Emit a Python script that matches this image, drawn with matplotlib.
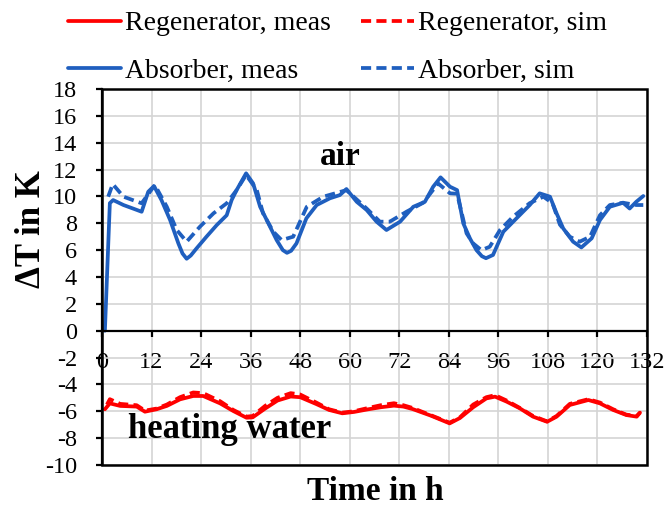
import matplotlib
matplotlib.use("Agg")
import matplotlib.pyplot as plt
from matplotlib.patches import Rectangle

plt.rcParams["font.family"] = ["Liberation Serif", "DejaVu Serif"]
plt.rcParams["axes.unicode_minus"] = False

# Absorber (air side), measured
abs_meas_t = [0.7, 1.9, 2.7, 5.2, 7.5, 9.6, 11.2, 12.6, 14.4, 16.5, 18.5, 19.5, 20.5, 21.5, 22.9,
              25.3, 27.8, 30.2, 31.4, 32.6, 34.9, 36.6, 38.3, 39.9, 42.3, 43.8, 44.8, 45.8, 47.1,
              49.5, 52.0, 55.2, 57.6, 59.2, 61.7, 64.1, 66.5, 68.9, 72.2, 75.4, 78.2,
              80.2, 82.0, 84.3, 86.0, 87.5, 89.1, 90.7, 92.0, 93.0, 94.7, 97.2, 100.4, 103.6,
              106.0, 108.5, 110.1, 111.7, 114.1, 116.1, 118.6, 120.6, 123.0, 126.2,
              127.8, 129.4, 131.1]
abs_meas_v = [0.0, 9.5, 9.73, 9.36, 9.1, 8.86, 10.35, 10.77, 9.73, 8.24, 6.5, 5.75, 5.36, 5.6, 6.13,
              7.0, 7.87, 8.6, 9.73, 10.47, 11.72, 10.97, 9.23, 8.24, 6.75, 6.0, 5.8, 5.95, 6.5,
              8.37, 9.36, 9.86, 10.1, 10.55, 9.6, 8.99, 8.12, 7.5, 8.12, 9.23, 9.6,
              10.72, 11.42, 10.72, 10.47, 8.0, 6.88, 6.0, 5.55, 5.4, 5.64, 7.37, 8.37, 9.36,
              10.23, 9.98, 8.74, 7.62, 6.63, 6.2, 6.88, 8.24, 9.23, 9.53,
              9.1, 9.6, 10.03]

# Absorber (air side), simulated
abs_sim_t = [1.5, 2.6, 5.2, 9.6, 12.8, 15.7, 18.1, 20.5, 23.7, 27.0, 30.2, 32.6, 34.9,
             37.5, 39.0, 41.5, 43.5, 46.3, 49.6, 53.6, 59.2, 64.1, 67.3, 69.7, 73.8,
             77.8, 81.4, 84.3, 86.0, 88.3, 89.9, 91.9, 93.9, 96.4, 99.6, 103.6, 106.9,
             109.1, 110.9, 113.3, 115.7, 118.2, 120.6, 123.0, 126.2, 129.4, 131.1]
abs_sim_v = [9.98, 10.92, 9.98, 9.49, 10.85, 9.23, 7.5, 6.63, 7.74, 8.74, 9.49, 10.47, 11.6,
             10.47, 8.74, 7.37, 6.75, 7.0, 9.23, 9.98, 10.47, 9.1, 8.12, 8.12, 8.87,
             9.53, 10.97, 10.23, 10.2, 7.25, 6.5, 6.0, 6.25, 7.5, 8.5, 9.5, 9.98,
             9.5, 7.9, 7.0, 6.63, 7.0, 8.6, 9.36, 9.53, 9.36, 9.36]

# Regenerator (heating water side), measured
reg_meas_t = [0.7, 1.9, 4.4, 8.4, 10.4, 13.2, 15.7, 18.9, 22.1, 24.5, 28.6, 31.8, 35.0,
              36.5, 39.5, 42.5, 45.7, 48.0, 51.9, 55.0, 58.2, 61.0, 64.5, 67.5, 70.7,
              73.0, 75.2, 79.7, 84.2, 86.7, 89.9, 93.1, 95.2, 98.0, 101.2, 104.4, 107.8,
              110.1, 113.3, 117.8, 120.6, 123.8, 127.0, 129.5, 130.3]
reg_meas_v = [-5.85, -5.41, -5.6, -5.65, -6.03, -5.85, -5.6, -5.11, -4.86, -4.86, -5.41, -5.98, -6.48,
              -6.45, -5.8, -5.2, -4.9, -4.95, -5.46, -5.9, -6.15, -6.05, -5.85, -5.7, -5.58,
              -5.65, -5.83, -6.33, -6.9, -6.5, -5.7, -5.04, -4.91, -5.28, -5.78, -6.4, -6.78,
              -6.4, -5.53, -5.16, -5.41, -5.9, -6.28, -6.4, -6.1]

# Regenerator (heating water side), simulated
reg_sim_t = [1.2, 1.9, 4.4, 8.4, 10.4, 13.2, 15.7, 18.9, 22.1, 24.5, 28.6, 31.8, 35.0,
             36.5, 39.5, 42.5, 45.7, 48.0, 51.9, 55.0, 58.2, 61.0, 64.5, 67.5, 70.7,
             73.0, 75.2, 79.7, 84.2, 86.7, 89.9, 93.1, 95.2, 98.0, 101.2, 104.4, 107.8,
             110.1, 113.3, 117.8, 120.6, 123.8, 127.0, 129.5, 130.3]
reg_sim_v = [-5.5, -5.1, -5.45, -5.55, -5.95, -5.8, -5.5, -4.95, -4.6, -4.65, -5.25, -5.9, -6.4,
             -6.35, -5.6, -5.0, -4.65, -4.75, -5.35, -5.85, -6.1, -6.0, -5.75, -5.55, -5.4,
             -5.55, -5.75, -6.3, -6.85, -6.45, -5.5, -4.95, -4.8, -5.2, -5.75, -6.35, -6.75,
             -6.35, -5.45, -5.1, -5.35, -5.85, -6.25, -6.35, -6.1]

x_ticks = list(range(0, 133, 12))
y_ticks = list(range(-10, 19, 2))

RED = "#FF0000"
BLUE = "#1F5FBF"
LW = 2.7
DASH = (0, (2.7, 1.4))

W, H = 669, 516
fig = plt.figure(figsize=(W / 100, H / 100), dpi=100)
ax = fig.add_axes([102 / W, 1 - 465 / H, (647 - 102) / W, (465 - 89) / H])

ax.set_xlim(0, 132)
ax.set_ylim(-10, 18)
ax.set_xticks(x_ticks)
ax.set_yticks(y_ticks)
ax.grid(True, color="#D4D4D4", linewidth=1.2)
ax.set_axisbelow(True)

l_rm, = ax.plot(reg_meas_t, reg_meas_v, color=RED, lw=LW, solid_capstyle="round",
                solid_joinstyle="round")
l_am, = ax.plot(abs_meas_t, abs_meas_v, color=BLUE, lw=LW, solid_capstyle="round",
                solid_joinstyle="round")
l_rs, = ax.plot(reg_sim_t, reg_sim_v, color=RED, lw=LW, ls=DASH)
l_as, = ax.plot(abs_sim_t, abs_sim_v, color=BLUE, lw=LW, ls=DASH)

# x axis crosses at zero, outer frame drawn separately
ax.spines["bottom"].set_position(("data", 0))
ax.spines["top"].set_visible(False)
ax.spines["right"].set_visible(False)
for s in ("left", "bottom"):
    ax.spines[s].set_linewidth(1.6)
    ax.spines[s].set_color("black")
ax.add_patch(Rectangle((0, 0), 1, 1, transform=ax.transAxes, fill=False,
                       edgecolor="black", linewidth=1.8, clip_on=False, zorder=5))

ax.tick_params(axis="y", direction="out", length=4, width=1.6, labelsize=17.5, pad=14)
ax.tick_params(axis="x", direction="out", length=4, width=1.6, labelsize=17.5, pad=11)

ax.text(57.6, 12.35, "air", fontsize=24, fontweight="bold", ha="center", va="baseline")
ax.text(6.3, -8.0, "heating water", fontsize=25, fontweight="bold", ha="left", va="baseline")

fig.text(375 / W, 1 - 492 / H, "Time in h", fontsize=24, fontweight="bold",
         ha="center", va="center")
fig.text(31 / W, 1 - 229 / H, "ΔT in K", fontsize=25, fontweight="bold",
         ha="center", va="center", rotation=90)

fig.legend([l_rm, l_am, l_rs, l_as],
           ["Regenerator, meas", "Absorber, meas", "Regenerator, sim", "Absorber, sim"],
           ncol=2, frameon=False, fontsize=20, handlelength=1.9, handletextpad=0.15,
           columnspacing=1.1, labelspacing=0.8, borderaxespad=0, borderpad=0,
           loc="upper left", bbox_to_anchor=(68 / W, 1 - 11 / H))

fig.savefig("out.png", dpi=100)
